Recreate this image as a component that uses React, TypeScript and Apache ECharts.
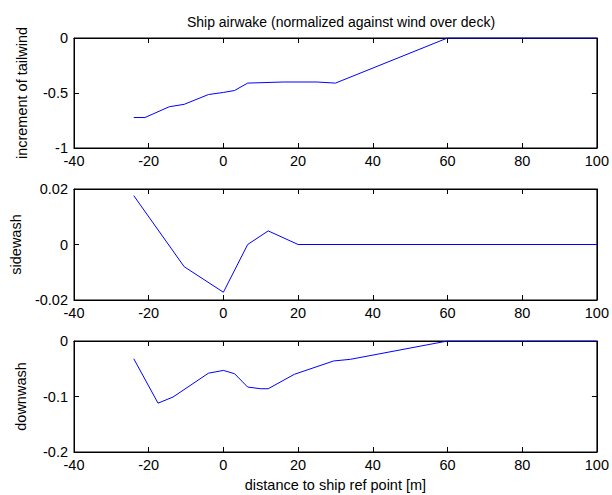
import React, { useEffect, useRef } from "react";
import * as echarts from "echarts";

// Distance axis shared by all three panels
const distanceTicks = [-40, -20, 0, 20, 40, 60, 80, 100];

// Panel 1: increment of tailwind
const tailwindX = [-24, -21, -14.5, -10.5, -4, 0, 3, 6.5, 16, 25, 30, 60, 100];
const tailwindY = [-0.723, -0.723, -0.625, -0.603, -0.514, -0.495, -0.477, -0.41, -0.4, -0.4, -0.41, 0, 0];

// Panel 2: sidewash
const sidewashX = [-24, -10.5, 0, 6.5, 12, 20, 100];
const sidewashY = [0.0176, -0.008, -0.0172, 0, 0.0049, 0, 0];

// Panel 3: downwash
const downwashX = [-24, -17.5, -13.5, -4, 0, 3, 6.5, 10, 12, 19, 29.5, 34, 60, 100];
const downwashY = [-0.032, -0.112, -0.101, -0.058, -0.053, -0.059, -0.083, -0.086, -0.086, -0.06, -0.036, -0.033, 0, 0];

const panelNames = ["increment of tailwind", "sidewash", "downwash"];
const yRanges = [
  { min: -1, max: 0, interval: 0.5 },
  { min: -0.02, max: 0.02, interval: 0.02 },
  { min: -0.2, max: 0, interval: 0.1 },
];
const yNameGaps = [45, 51, 46];

const FONT = "'Liberation Sans', Arial, sans-serif";
const FONT_SIZE = 14.5;
const TITLE_SIZE = 14;
const INK = "#000000";
const LINE_BLUE = "#0000ff";

function pairs(xs: number[], ys: number[]) {
  return xs.map((x, i) => [x, ys[i]]);
}

export default function App() {
  const ref = useRef<HTMLDivElement>(null);

  useEffect(() => {
    if (!ref.current) return;
    const chart = echarts.init(ref.current, null, { renderer: "svg" });

    const grids = [
      { left: 74, right: 13, top: 38, height: 110 },
      { left: 74, right: 13, top: 189, height: 111 },
      { left: 74, right: 13, top: 341, height: 111 },
    ].map((g) => ({ ...g, show: true, borderColor: INK, borderWidth: 1, backgroundColor: "#ffffff" }));

    const tickStyle = { show: true, inside: true, length: 5, lineStyle: { color: INK, width: 1 } };
    const xMin = distanceTicks[0];
    const xMax = distanceTicks[distanceTicks.length - 1];

    const xAxis: any[] = [];
    const yAxis: any[] = [];
    grids.forEach((_, i) => {
      xAxis.push({
        type: "value",
        gridIndex: i,
        position: "bottom",
        min: xMin,
        max: xMax,
        interval: 20,
        axisLine: { show: true, onZero: false, lineStyle: { color: INK, width: 1 } },
        axisTick: tickStyle,
        splitLine: { show: false },
        axisLabel: { color: INK, fontFamily: FONT, fontSize: FONT_SIZE, margin: 5 },
        name: i === 2 ? "distance to ship ref point [m]" : "",
        nameLocation: "middle",
        nameGap: 25,
        nameTextStyle: { color: INK, fontFamily: FONT, fontSize: FONT_SIZE },
      });
      xAxis.push({
        type: "value",
        gridIndex: i,
        position: "top",
        min: xMin,
        max: xMax,
        interval: 20,
        axisLine: { show: true, onZero: false, lineStyle: { color: INK, width: 1 } },
        axisTick: tickStyle,
        splitLine: { show: false },
        axisLabel: { show: false },
      });
      yAxis.push({
        type: "value",
        gridIndex: i,
        position: "left",
        min: yRanges[i].min,
        max: yRanges[i].max,
        interval: yRanges[i].interval,
        axisLine: { show: true, onZero: false, lineStyle: { color: INK, width: 1 } },
        axisTick: tickStyle,
        splitLine: { show: false },
        axisLabel: { color: INK, fontFamily: FONT, fontSize: FONT_SIZE, margin: 6 },
        name: panelNames[i],
        nameLocation: "middle",
        nameRotate: 90,
        nameGap: yNameGaps[i],
        nameTextStyle: { color: INK, fontFamily: FONT, fontSize: FONT_SIZE },
      });
      yAxis.push({
        type: "value",
        gridIndex: i,
        position: "right",
        min: yRanges[i].min,
        max: yRanges[i].max,
        interval: yRanges[i].interval,
        axisLine: { show: true, onZero: false, lineStyle: { color: INK, width: 1 } },
        axisTick: tickStyle,
        splitLine: { show: false },
        axisLabel: { show: false },
      });
    });

    const seriesData = [
      pairs(tailwindX, tailwindY),
      pairs(sidewashX, sidewashY),
      pairs(downwashX, downwashY),
    ];

    chart.setOption({
      animation: false,
      backgroundColor: "#ffffff",
      title: {
        text: "Ship airwake (normalized against wind over deck)",
        left: 336,
        textAlign: "center",
        top: 10,
        textStyle: { color: INK, fontFamily: FONT, fontSize: TITLE_SIZE, fontWeight: "normal" },
      },
      grid: grids,
      xAxis,
      yAxis,
      series: seriesData.map((data, i) => ({
        type: "line",
        xAxisIndex: i * 2,
        yAxisIndex: i * 2,
        data,
        showSymbol: false,
        symbol: "none",
        lineStyle: { color: LINE_BLUE, width: 1 },
        z: 3,
      })),
    });

    return () => chart.dispose();
  }, []);

  return (
    <div
      ref={ref}
      style={{ position: "fixed", left: 0, top: 0, width: 612, height: 495, background: "#ffffff" }}
    />
  );
}
